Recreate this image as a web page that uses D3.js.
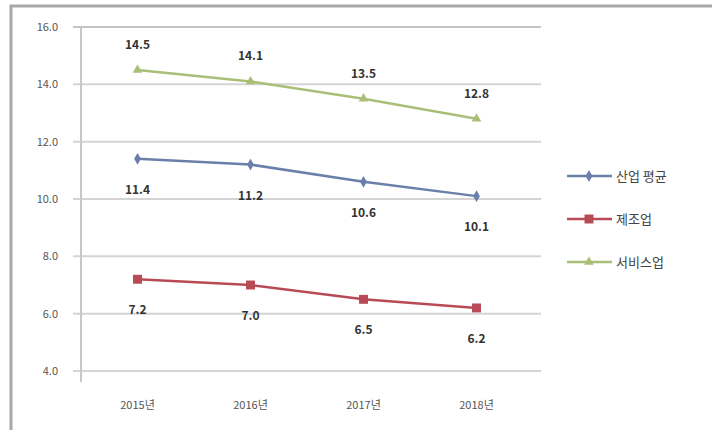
<!DOCTYPE html>
<html><head><meta charset="utf-8">
<script src="https://cdn.jsdelivr.net/npm/d3@7"></script>
<style>body{margin:0;background:#fff;}svg{display:block;font-family:"Noto Sans CJK KR","Noto Sans",sans-serif;}</style>
</head><body><svg id="c" width="712" height="430"></svg>
<script>
const categories = ["2015년","2016년","2017년","2018년"];
const seriesNames = ["산업 평균","제조업","서비스업"];
const industryAvg = [11.4, 11.2, 10.6, 10.1];
const manufacturing = [7.2, 7.0, 6.5, 6.2];
const services = [14.5, 14.1, 13.5, 12.8];
const yTicks = [4.0, 6.0, 8.0, 10.0, 12.0, 14.0, 16.0];

const series = [
  {name: seriesNames[0], values: industryAvg, color: "#6a7fa9", marker: d3.symbolDiamond, size: 40, labelPos: "below"},
  {name: seriesNames[1], values: manufacturing, color: "#b84a55", marker: d3.symbolSquare, size: 80, labelPos: "below"},
  {name: seriesNames[2], values: services, color: "#a9bf78", marker: d3.symbolTriangle, size: 40, labelPos: "above"}
];

const svg = d3.select("#c");
// outer frame
svg.append("path").attr("d","M11,430 L11,6 L712,6").attr("fill","none").attr("stroke","#a8a8a8").attr("stroke-width",3);

const pLeft = 81, pRight = 533, pTop = 27, pBottom = 371;
const x = d3.scalePoint().domain(categories).range([pLeft, pRight]).padding(0.5);
const y = d3.scaleLinear().domain([4, 16]).range([pBottom, pTop]);

// gridlines
svg.append("g").selectAll("line").data(yTicks).join("line")
  .attr("x1", pLeft - 8).attr("x2", 541)
  .attr("y1", d => y(d)).attr("y2", d => y(d))
  .attr("stroke", d => d === 16 ? "#c4c4c4" : "#d4d4d4").attr("stroke-width", 2);

// y axis line
svg.append("line").attr("x1", pLeft).attr("x2", pLeft).attr("y1", pTop).attr("y2", 382)
  .attr("stroke","#c8c8c8").attr("stroke-width",2);

// y labels
svg.append("g").selectAll("text").data(yTicks).join("text")
  .attr("x", 58).attr("y", d => y(d) + 4).attr("text-anchor","end")
  .attr("font-size", 11).attr("fill","#555").text(d => d.toFixed(1));

// x labels
svg.append("g").selectAll("text").data(categories).join("text")
  .attr("x", d => x(d)).attr("y", 409).attr("text-anchor","middle")
  .attr("font-size", 11).attr("fill","#555").text(d => d);

const line = d3.line().x((d,i) => x(categories[i])).y(d => y(d));
series.forEach(s => {
  svg.append("path").datum(s.values).attr("d", line)
    .attr("fill","none").attr("stroke", s.color).attr("stroke-width", 2.5);
  svg.append("g").selectAll("path").data(s.values).join("path")
    .attr("transform",(d,i) => `translate(${x(categories[i])},${y(d)})`)
    .attr("d", d3.symbol().type(s.marker).size(s.size)).attr("fill", s.color);
  svg.append("g").selectAll("text").data(s.values).join("text")
    .attr("x",(d,i) => x(categories[i]))
    .attr("y", d => s.labelPos === "above" ? y(d) - 21 : y(d) + 35)
    .attr("text-anchor","middle").attr("font-size", 12).attr("font-weight","bold")
    .attr("fill","#333").text(d => d.toFixed(1));
});

// legend
const lg = svg.append("g").selectAll("g").data(series).join("g")
  .attr("transform",(d,i) => `translate(567,${176 + i*43})`);
lg.append("line").attr("x1",0).attr("x2",45).attr("stroke", d => d.color).attr("stroke-width",2.5);
lg.append("path").attr("transform","translate(22,0)")
  .attr("d", d => d3.symbol().type(d.marker).size(d.size)()).attr("fill", d => d.color);
lg.append("text").attr("x",49).attr("y",5).attr("font-size",13).attr("fill","#444").text(d => d.name);
</script></body></html>
